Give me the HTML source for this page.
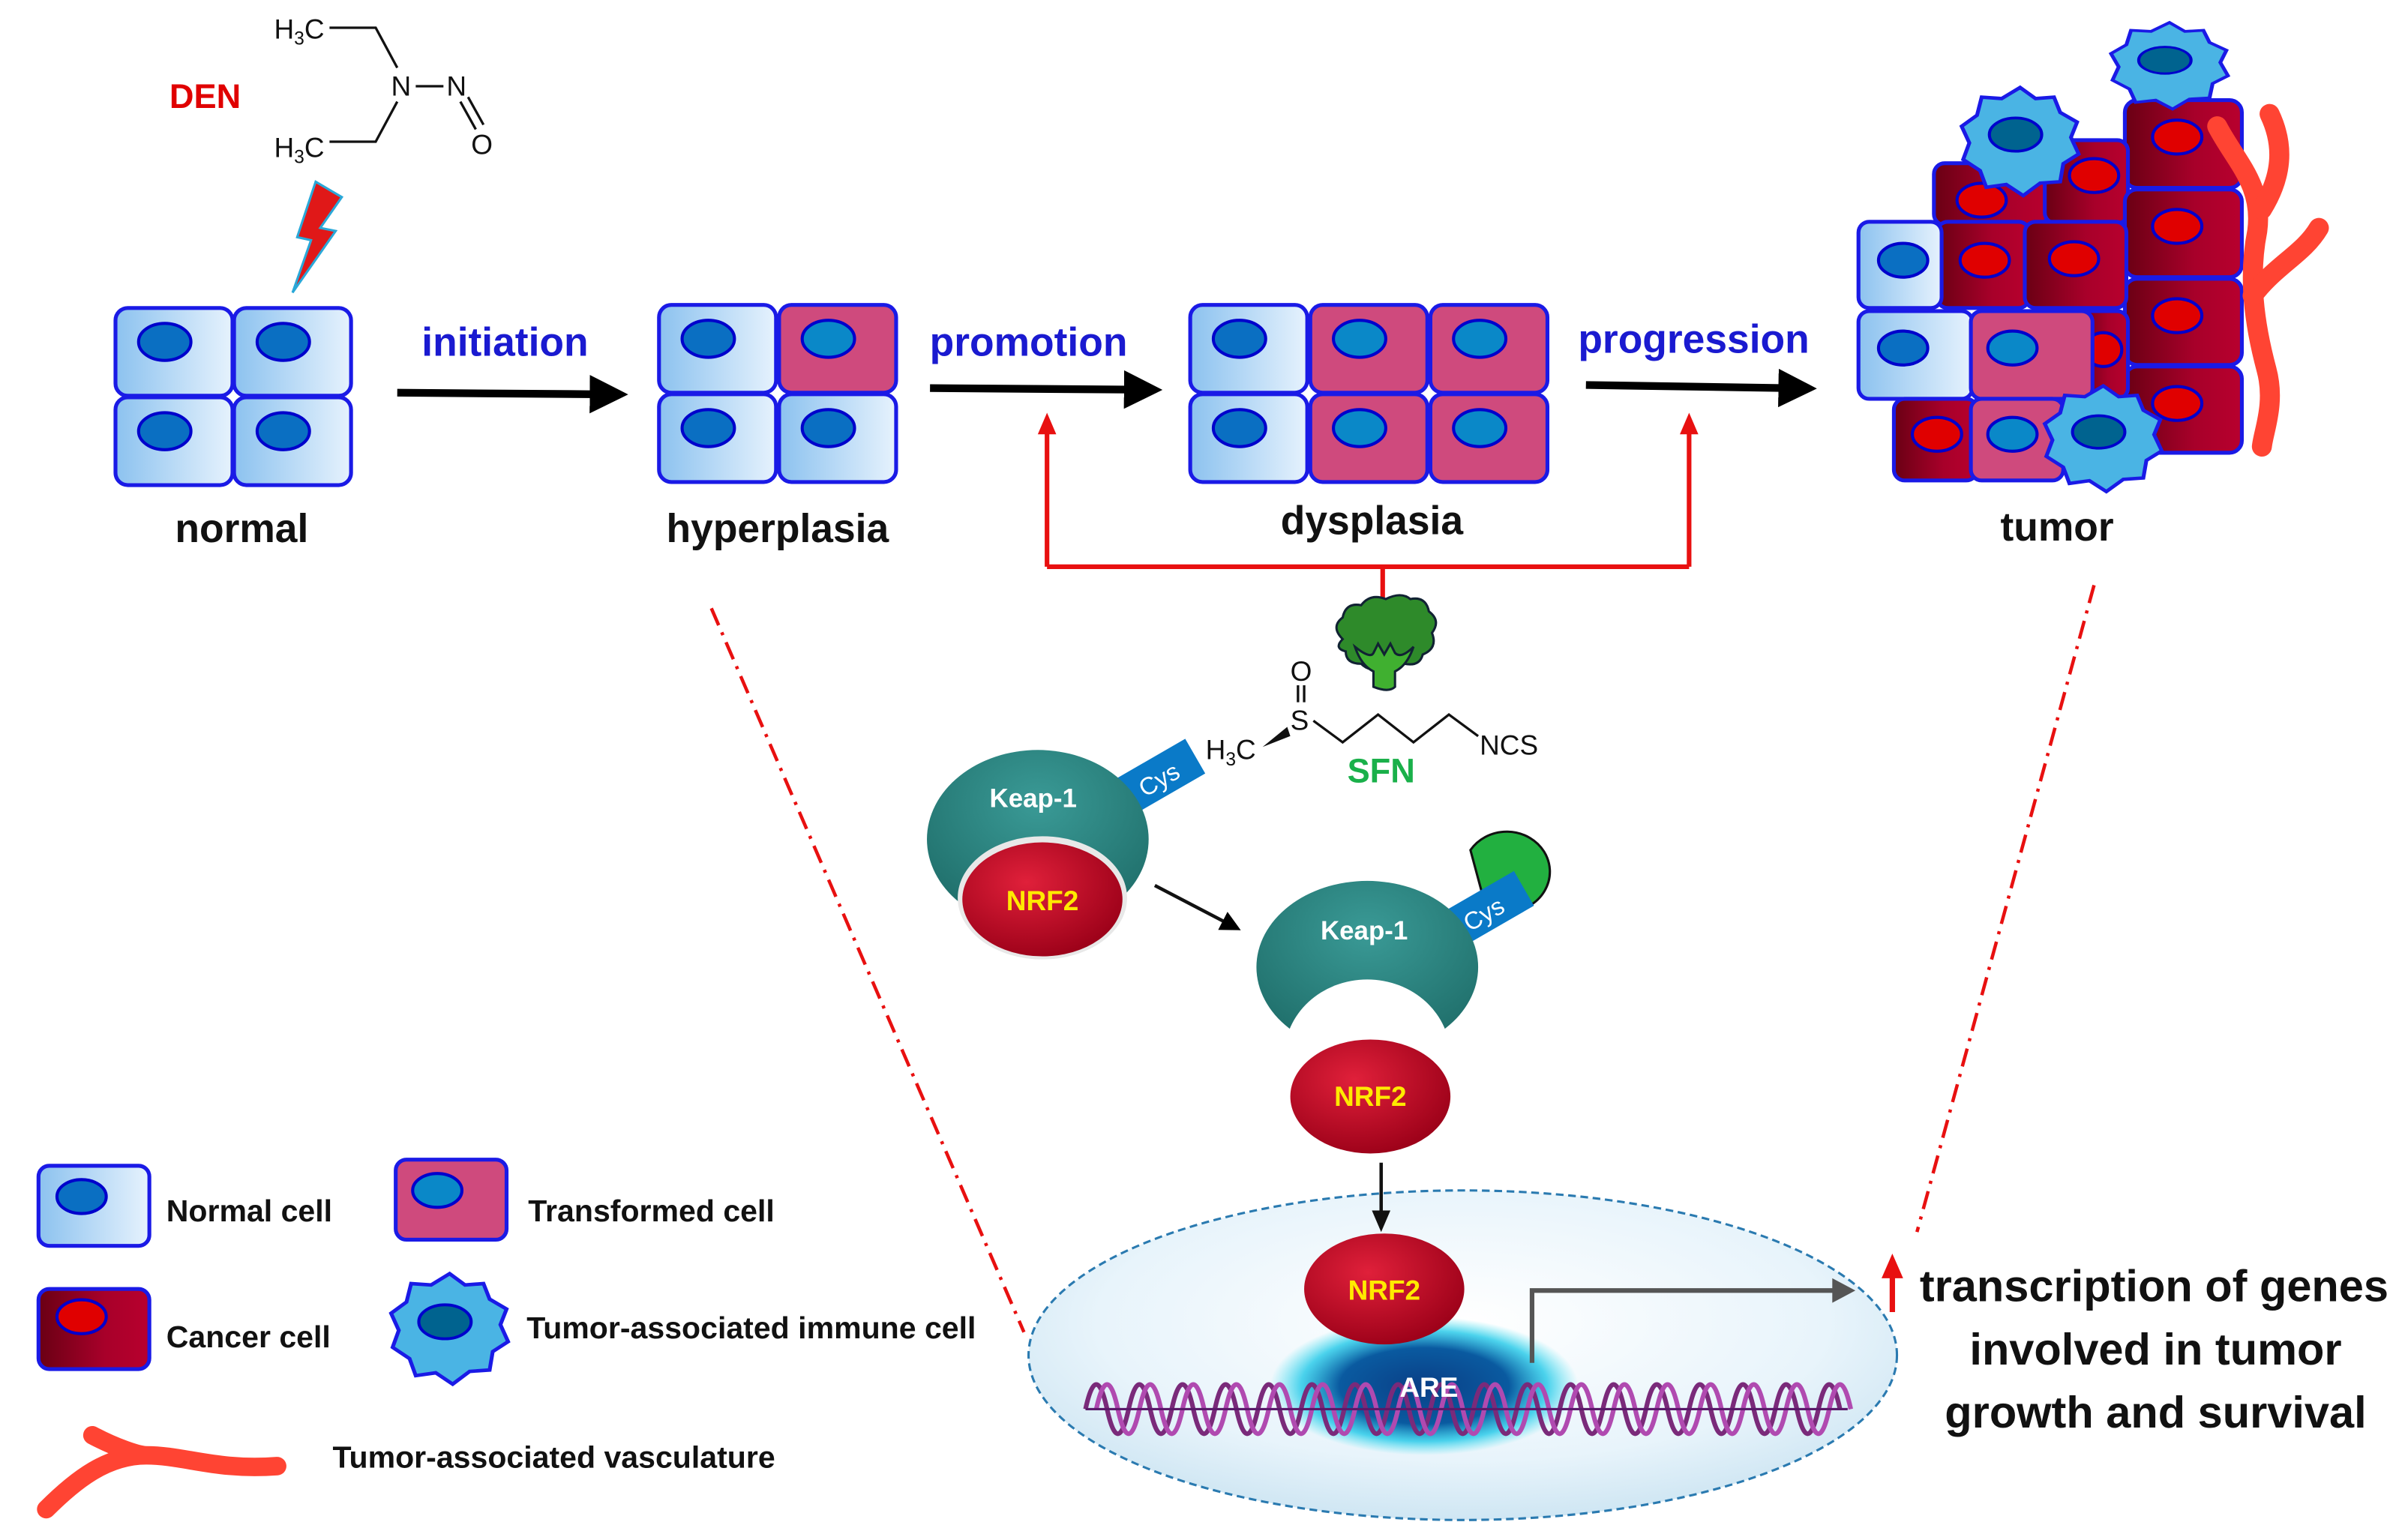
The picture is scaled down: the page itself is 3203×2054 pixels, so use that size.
<!DOCTYPE html>
<html><head><meta charset="utf-8"><style>
html,body{margin:0;padding:0;background:#fff;}
svg{display:block;}
text{font-family:"Liberation Sans",Arial,sans-serif;}
</style></head><body>
<svg width="3203" height="2054" viewBox="0 0 1560 1000" preserveAspectRatio="none" xmlns="http://www.w3.org/2000/svg">
<defs>
<linearGradient id="gN" x1="0" x2="1"><stop offset="0" stop-color="#8cc2ef"/><stop offset="1" stop-color="#e6f2fd"/></linearGradient>
<linearGradient id="gC" x1="0" x2="1"><stop offset="0" stop-color="#6a0014"/><stop offset="0.6" stop-color="#a8002a"/><stop offset="1" stop-color="#b8002e"/></linearGradient>
<radialGradient id="gR" cx="0.4" cy="0.35" r="0.7"><stop offset="0" stop-color="#e0203a"/><stop offset="1" stop-color="#9a0018"/></radialGradient>
<radialGradient id="gT" cx="0.5" cy="0.3" r="0.7"><stop offset="0" stop-color="#3a9a96"/><stop offset="1" stop-color="#1f6e6a"/></radialGradient>
<radialGradient id="gNuc" cx="0.5" cy="0.4" r="0.6"><stop offset="0" stop-color="#ffffff"/><stop offset="0.7" stop-color="#e8f4fb"/><stop offset="1" stop-color="#cfe6f3"/></radialGradient>
<radialGradient id="gAre" cx="0.5" cy="0.5" r="0.5"><stop offset="0" stop-color="#0a3f86"/><stop offset="0.55" stop-color="#0a5aa0"/><stop offset="0.8" stop-color="#20c8e8" stop-opacity="0.8"/><stop offset="1" stop-color="#40e0f0" stop-opacity="0"/></radialGradient>
<g id="nc"><rect x="0" y="0" width="76" height="57" rx="8" fill="url(#gN)" stroke="#1a1ae6" stroke-width="2.5"/><ellipse cx="32" cy="22" rx="17" ry="12" fill="#0a6fc2" stroke="#0000cc" stroke-width="2"/></g>
<g id="tc"><rect x="0" y="0" width="76" height="57" rx="8" fill="#cf4a7d" stroke="#1a1ae6" stroke-width="2.5"/><ellipse cx="32" cy="22" rx="17" ry="12" fill="#0a88c8" stroke="#0000cc" stroke-width="2"/></g>
<g id="im"><polygon points="0,-38 10,-30 22,-31 26,-20 37,-13 33,-2 38,10 28,17 26,30 13,31 2,40 -9,32 -22,34 -26,22 -37,14 -33,2 -38,-10 -28,-18 -25,-31 -12,-30" fill="#4ab4e4" stroke="#1a1ae6" stroke-width="2.5"/><ellipse cx="-3" cy="-4" rx="17" ry="12" fill="#00638f" stroke="#0000cc" stroke-width="2"/></g>
<marker id="ab" markerWidth="6" markerHeight="6" refX="3" refY="3" orient="auto" markerUnits="strokeWidth"><path d="M0,0 L6,3 L0,6 z" fill="#000"/></marker>
<marker id="abB" markerWidth="5" markerHeight="5" refX="1" refY="2.5" orient="auto" markerUnits="strokeWidth"><path d="M0,0 L5,2.5 L0,5 z" fill="#000"/></marker>
</defs>

<!-- DEN -->
<text x="110" y="70" font-size="22" font-weight="bold" fill="#e00000">DEN</text>
<g fill="#111" font-size="18">
<text x="178" y="25">H<tspan font-size="12" dy="4">3</tspan><tspan dy="-4">C</tspan></text>
<text x="178" y="102">H<tspan font-size="12" dy="4">3</tspan><tspan dy="-4">C</tspan></text>
<text x="254" y="62">N</text><text x="290" y="62">N</text><text x="306" y="100">O</text>
</g>
<g stroke="#111" stroke-width="1.6" fill="none">
<path d="M214,18 L244,18 L258,44"/><path d="M258,66 L244,92 L214,92"/><path d="M270,56 L288,56"/>
<path d="M299,66 L309,84"/><path d="M304,63 L314,81"/>
</g>
<polygon points="205,118 222,128 208,148 218,150 190,190 202,156 193,154" fill="#e01818" stroke="#2aa8d8" stroke-width="1.5"/>

<!-- normal -->
<use href="#nc" x="75" y="200"/><use href="#nc" x="152" y="200"/>
<use href="#nc" x="75" y="258"/><use href="#nc" x="152" y="258"/>
<text x="157" y="352" font-size="26" font-weight="bold" text-anchor="middle" fill="#111">normal</text>

<line x1="258" y1="255" x2="388" y2="256" stroke="#000" stroke-width="5" marker-end="url(#abB)"/>
<text x="328" y="231" font-size="26" font-weight="bold" text-anchor="middle" fill="#1a1ad0">initiation</text>

<!-- hyperplasia -->
<use href="#nc" x="428" y="198"/><use href="#tc" x="506" y="198"/>
<use href="#nc" x="428" y="256"/><use href="#nc" x="506" y="256"/>
<text x="505" y="352" font-size="26" font-weight="bold" text-anchor="middle" fill="#111">hyperplasia</text>

<line x1="604" y1="252" x2="735" y2="253" stroke="#000" stroke-width="5" marker-end="url(#abB)"/>
<text x="668" y="231" font-size="26" font-weight="bold" text-anchor="middle" fill="#1a1ad0">promotion</text>

<!-- dysplasia -->
<use href="#nc" x="773" y="198"/><use href="#tc" x="851" y="198"/><use href="#tc" x="929" y="198"/>
<use href="#nc" x="773" y="256"/><use href="#tc" x="851" y="256"/><use href="#tc" x="929" y="256"/>
<text x="891" y="347" font-size="26" font-weight="bold" text-anchor="middle" fill="#111">dysplasia</text>

<line x1="1030" y1="250" x2="1160" y2="252" stroke="#000" stroke-width="5" marker-end="url(#abB)"/>
<text x="1100" y="229" font-size="26" font-weight="bold" text-anchor="middle" fill="#1a1ad0">progression</text>

<!-- inhibition red lines -->
<g stroke="#e81010" stroke-width="3" fill="none">
<path d="M898,388 L898,368 M680,368 L1097,368 M680,368 L680,280 M1097,368 L1097,280"/>
</g>
<polygon points="680,268 674,282 686,282" fill="#e81010"/>
<polygon points="1097,268 1091,282 1103,282" fill="#e81010"/>

<!-- tumor -->
<g>
<rect x="1380" y="65" width="76" height="57" rx="8" fill="url(#gC)" stroke="#1a1ae6" stroke-width="2.5"/>
<rect x="1256" y="106" width="74" height="40" rx="7" fill="url(#gC)" stroke="#1a1ae6" stroke-width="2.5"/>
<rect x="1328" y="91" width="54" height="54" rx="7" fill="url(#gC)" stroke="#1a1ae6" stroke-width="2.5"/>
<ellipse cx="1287" cy="130" rx="16" ry="11" fill="#e00000" stroke="#0000cc" stroke-width="2"/>
<ellipse cx="1360" cy="114" rx="16" ry="11" fill="#e00000" stroke="#0000cc" stroke-width="2"/>
<ellipse cx="1414" cy="89" rx="16" ry="11" fill="#e00000" stroke="#0000cc" stroke-width="2"/>
<rect x="1380" y="123" width="76" height="57" rx="8" fill="url(#gC)" stroke="#1a1ae6" stroke-width="2.5"/>
<ellipse cx="1414" cy="147" rx="16" ry="11" fill="#e00000" stroke="#0000cc" stroke-width="2"/>
<rect x="1380" y="181" width="76" height="56" rx="8" fill="url(#gC)" stroke="#1a1ae6" stroke-width="2.5"/>
<ellipse cx="1414" cy="205" rx="16" ry="11" fill="#e00000" stroke="#0000cc" stroke-width="2"/>
<rect x="1380" y="238" width="76" height="56" rx="8" fill="url(#gC)" stroke="#1a1ae6" stroke-width="2.5"/>
<ellipse cx="1414" cy="262" rx="16" ry="11" fill="#e00000" stroke="#0000cc" stroke-width="2"/>
<rect x="1258" y="144" width="60" height="56" rx="7" fill="url(#gC)" stroke="#1a1ae6" stroke-width="2.5"/>
<ellipse cx="1289" cy="169" rx="16" ry="11" fill="#e00000" stroke="#0000cc" stroke-width="2"/>
<rect x="1315" y="144" width="66" height="56" rx="7" fill="url(#gC)" stroke="#1a1ae6" stroke-width="2.5"/>
<ellipse cx="1347" cy="168" rx="16" ry="11" fill="#e00000" stroke="#0000cc" stroke-width="2"/>
<rect x="1207" y="144" width="54" height="56" rx="7" fill="url(#gN)" stroke="#1a1ae6" stroke-width="2.5"/>
<ellipse cx="1236" cy="169" rx="16" ry="11" fill="#0a6fc2" stroke="#0000cc" stroke-width="2"/>
<rect x="1350" y="202" width="32" height="57" rx="7" fill="url(#gC)" stroke="#1a1ae6" stroke-width="2.5"/>
<ellipse cx="1366" cy="227" rx="12" ry="11" fill="#e00000" stroke="#0000cc" stroke-width="2"/>
<rect x="1207" y="202" width="74" height="57" rx="7" fill="url(#gN)" stroke="#1a1ae6" stroke-width="2.5"/>
<ellipse cx="1236" cy="226" rx="16" ry="11" fill="#0a6fc2" stroke="#0000cc" stroke-width="2"/>
<rect x="1280" y="202" width="79" height="57" rx="7" fill="#cf4a7d" stroke="#1a1ae6" stroke-width="2.5"/>
<ellipse cx="1307" cy="226" rx="16" ry="11" fill="#0a88c8" stroke="#0000cc" stroke-width="2"/>
<rect x="1230" y="259" width="54" height="53" rx="7" fill="url(#gC)" stroke="#1a1ae6" stroke-width="2.5"/>
<ellipse cx="1258" cy="282" rx="16" ry="11" fill="#e00000" stroke="#0000cc" stroke-width="2"/>
<rect x="1280" y="259" width="60" height="53" rx="7" fill="#cf4a7d" stroke="#1a1ae6" stroke-width="2.5"/>
<ellipse cx="1307" cy="282" rx="16" ry="11" fill="#0a88c8" stroke="#0000cc" stroke-width="2"/>
<use href="#im" transform="translate(1409,42) scale(1,0.72)"/>
<use href="#im" transform="translate(1312,91) scale(1,0.9)"/>
<use href="#im" transform="translate(1366,284) scale(1,0.88)"/>
<g stroke="#ff4433" stroke-width="13" fill="none" stroke-linecap="round" stroke-linejoin="round">
<path d="M1440,82 C1452,105 1470,120 1466,150 C1460,180 1464,210 1472,240 C1478,262 1470,280 1469,290"/>
<path d="M1474,74 C1484,95 1482,115 1469,136"/>
<path d="M1506,148 C1496,165 1478,172 1463,192"/>
</g>
</g>
<text x="1336" y="351" font-size="26" font-weight="bold" text-anchor="middle" fill="#111">tumor</text>

<!-- dash-dot lines -->
<g stroke="#e81010" stroke-width="2.2" fill="none" stroke-dasharray="12,5,2,5">
<path d="M462,395 L665,865"/><path d="M1360,380 L1245,800"/>
</g>

<!-- broccoli -->
<g>
<path d="M872,415 q-8,-8 0,-14 q2,-10 12,-8 q6,-8 16,-4 q10,-5 16,0 q10,-2 12,8 q8,6 2,14 q4,10 -6,14 q-2,8 -12,6 q-6,6 -14,2 q-8,4 -14,-2 q-10,0 -10,-8 q-8,-2 -2,-8z" fill="#2e8a2a" stroke="#123" stroke-width="1.5"/>
<path d="M880,420 q10,8 12,4 l3,-6 l4,7 l4,-7 l3,6 q4,4 12,-4 q-4,12 -12,16 l0,10 q-4,4 -14,0 l0,-10 q-8,-4 -12,-16z" fill="#40b030" stroke="#123" stroke-width="1.5"/>
</g>
<!-- SFN -->
<g fill="#111" font-size="18">
<text x="838" y="442">O</text><text x="838" y="474">S</text>
<text x="783" y="493">H<tspan font-size="12" dy="4">3</tspan><tspan dy="-4">C</tspan></text>
<text x="961" y="490">NCS</text>
</g>
<g stroke="#111" stroke-width="1.6" fill="none">
<path d="M843,445 L843,456 M847,445 L847,456"/>
<path d="M853,468 L872,482 L895,464 L918,482 L941,464 L960,478"/>
</g>
<polygon points="820,485 836,472 838,478" fill="#111"/>
<text x="897" y="508" font-size="22" font-weight="bold" text-anchor="middle" fill="#1ab04a">SFN</text>

<!-- Keap complex 1 -->
<g transform="rotate(-30 752 505)"><rect x="724" y="492" width="56" height="26" fill="#0a7ac8"/><text x="752" y="512" font-size="16" fill="#fff" text-anchor="middle">Cys</text></g>
<ellipse cx="674" cy="545" rx="72" ry="58" fill="url(#gT)"/>
<ellipse cx="677" cy="583" rx="55" ry="40" fill="#e8e8e8"/>
<ellipse cx="677" cy="584" rx="52" ry="37" fill="url(#gR)"/>
<text x="671" y="524" font-size="17" font-weight="bold" fill="#fff" text-anchor="middle">Keap-1</text>
<text x="677" y="591" font-size="18" font-weight="bold" fill="#ffea00" text-anchor="middle">NRF2</text>

<line x1="750" y1="575" x2="800" y2="601" stroke="#111" stroke-width="2.2" marker-end="url(#ab)"/>

<!-- Keap complex 2 -->
<path d="M985,562 m-30,-10 a28,26 0 1 1 25,40 l-18,-14 z" fill="#22b040" stroke="#111" stroke-width="1.5"/>
<g transform="rotate(-30 965 590)"><rect x="937" y="578" width="56" height="26" fill="#0a7ac8"/><text x="962" y="598" font-size="16" fill="#fff" text-anchor="middle">Cys</text></g>
<ellipse cx="888" cy="628" rx="72" ry="56" fill="url(#gT)"/>
<ellipse cx="888" cy="686" rx="54" ry="50" fill="#fff"/>
<text x="886" y="610" font-size="17" font-weight="bold" fill="#fff" text-anchor="middle">Keap-1</text>
<ellipse cx="890" cy="712" rx="52" ry="37" fill="url(#gR)"/>
<text x="890" y="718" font-size="18" font-weight="bold" fill="#ffea00" text-anchor="middle">NRF2</text>

<!-- nucleus -->
<ellipse cx="950" cy="880" rx="282" ry="107" fill="url(#gNuc)" stroke="#2a7ab0" stroke-width="1.5" stroke-dasharray="5,3"/>
<ellipse cx="925" cy="900" rx="100" ry="45" fill="url(#gAre)"/>
<g fill="none" stroke-width="3">
<path stroke="#7a2a7a" d="M705,915 q7,-32 14,0 t14,0 t14,0 t14,0 t14,0 t14,0 t14,0 t14,0 t14,0 t14,0 t14,0 t14,0 t14,0 t14,0 t14,0 t14,0 t14,0 t14,0 t14,0 t14,0 t14,0 t14,0 t14,0 t14,0 t14,0 t14,0 t14,0 t14,0 t14,0 t14,0 t14,0 t14,0 t14,0 t14,0 t14,0"/>
<path stroke="#b04ab0" d="M712,915 q7,-32 14,0 t14,0 t14,0 t14,0 t14,0 t14,0 t14,0 t14,0 t14,0 t14,0 t14,0 t14,0 t14,0 t14,0 t14,0 t14,0 t14,0 t14,0 t14,0 t14,0 t14,0 t14,0 t14,0 t14,0 t14,0 t14,0 t14,0 t14,0 t14,0 t14,0 t14,0 t14,0 t14,0 t14,0 t14,0"/>
<path stroke="#5a1a6a" d="M705,915 L1200,915" stroke-width="1.5"/>
</g>
<text x="928" y="907" font-size="18" font-weight="bold" fill="#fff" text-anchor="middle">ARE</text>

<line x1="897" y1="755" x2="897" y2="788" stroke="#111" stroke-width="2.2"/>
<polygon points="897,800 891,786 903,786" fill="#111"/>

<ellipse cx="899" cy="837" rx="52" ry="36" fill="url(#gR)"/>
<text x="899" y="844" font-size="18" font-weight="bold" fill="#ffea00" text-anchor="middle">NRF2</text>
<path d="M995,885 L995,838 L1192,838" fill="none" stroke="#555" stroke-width="3"/>
<polygon points="1205,838 1190,830 1190,846" fill="#555"/>

<!-- right text -->
<line x1="1229" y1="852" x2="1229" y2="826" stroke="#e81010" stroke-width="3.5"/>
<polygon points="1229,814 1222,830 1236,830" fill="#e81010"/>
<g font-size="29" font-weight="bold" fill="#111" text-anchor="middle">
<text x="1399" y="845">transcription of genes</text>
<text x="1400" y="886">involved in tumor</text>
<text x="1400" y="927">growth and survival</text>
</g>

<!-- legend -->
<rect x="25" y="757" width="72" height="52" rx="7" fill="url(#gN)" stroke="#1a1ae6" stroke-width="2.5"/>
<ellipse cx="53" cy="777" rx="16" ry="11" fill="#0a6fc2" stroke="#0000cc" stroke-width="2"/>
<text x="108" y="793" font-size="20" font-weight="bold" fill="#111">Normal cell</text>
<rect x="257" y="753" width="72" height="52" rx="7" fill="#cf4a7d" stroke="#1a1ae6" stroke-width="2.5"/>
<ellipse cx="284" cy="773" rx="16" ry="11" fill="#0a88c8" stroke="#0000cc" stroke-width="2"/>
<text x="343" y="793" font-size="20" font-weight="bold" fill="#111">Transformed cell</text>
<rect x="25" y="837" width="72" height="52" rx="7" fill="url(#gC)" stroke="#1a1ae6" stroke-width="2.5"/>
<ellipse cx="53" cy="855" rx="16" ry="11" fill="#e00000" stroke="#0000cc" stroke-width="2"/>
<text x="108" y="875" font-size="20" font-weight="bold" fill="#111">Cancer cell</text>
<use href="#im" transform="translate(292,862) scale(1,0.92)"/>
<text x="342" y="869" font-size="20" font-weight="bold" fill="#111">Tumor-associated immune cell</text>
<path d="M30,980 C50,960 70,945 95,945 C120,945 140,955 180,952 M60,932 C75,940 90,945 95,945" fill="none" stroke="#ff4433" stroke-width="12" stroke-linecap="round"/>
<text x="216" y="953" font-size="20" font-weight="bold" fill="#111">Tumor-associated vasculature</text>
</svg>
</body></html>
